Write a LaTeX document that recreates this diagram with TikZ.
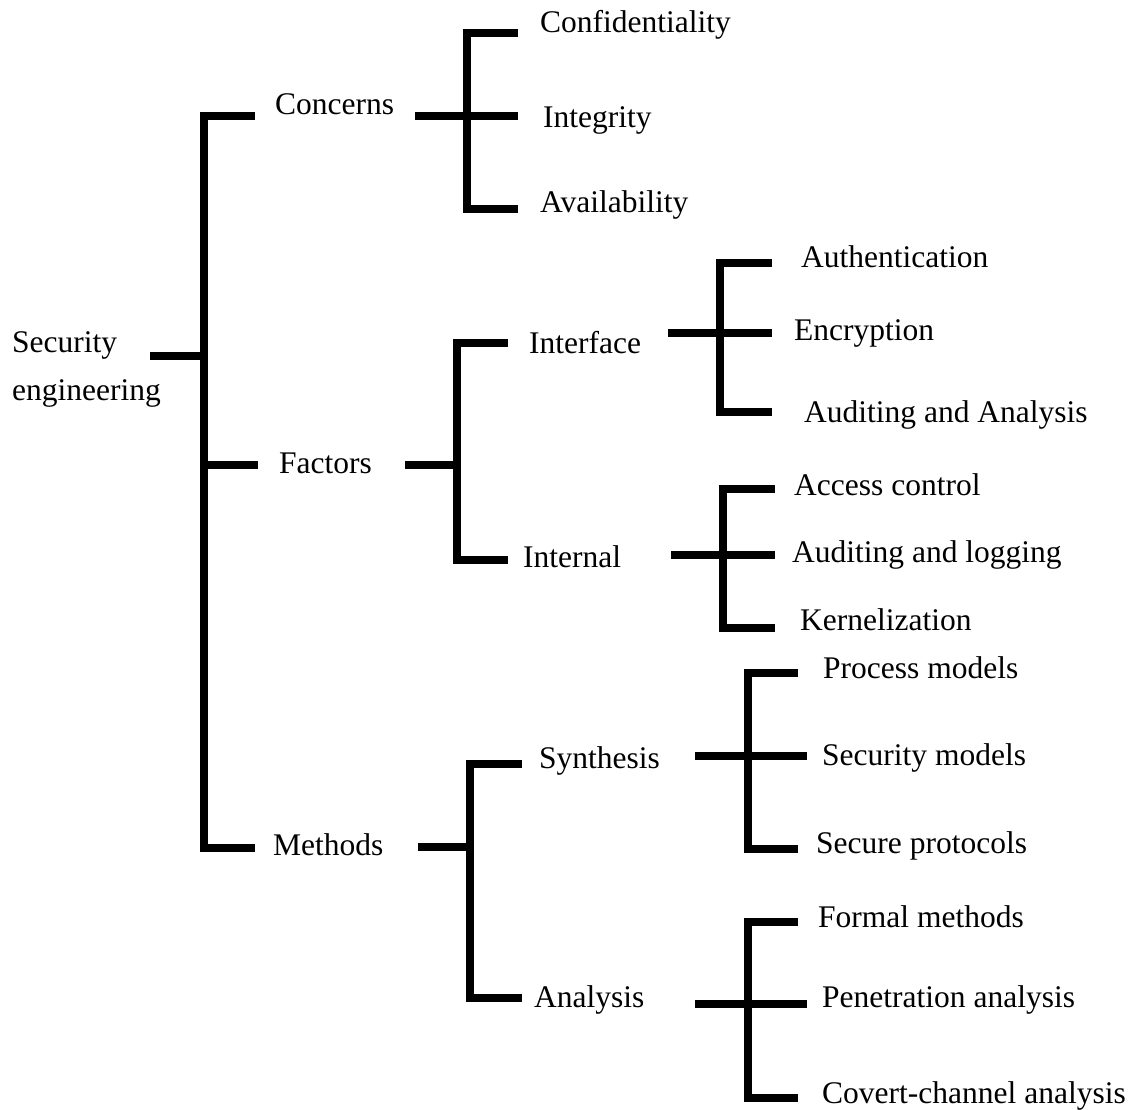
\documentclass[tikz,border=0pt]{standalone}
\usepackage{fontspec}
\setmainfont{Liberation Serif}
\usetikzlibrary{positioning}

\begin{document}
\begin{tikzpicture}[x=1pt,y=-1pt]

  % --- styles ---
  \tikzset{
    % text of every item in the tree
    treetext/.style={
      font=\fontsize{31.5}{48}\selectfont,
      inner sep=0pt,
      anchor=base west,
      align=left
    },
    % thick black bracket lines
    branch/.style={
      draw=black,
      line width=7.5pt,
      line join=miter
    }
  }

  \useasboundingbox (0,0) rectangle (1133,1110);

  % --- items ---
  % root (base = baseline of the last line)
  \node[treetext] (root) at (12,400) {Security\\engineering};

  % level 1
  \node[treetext] (concerns) at (275,115) {Concerns};
  \node[treetext] (factors) at (279,473) {Factors};
  \node[treetext] (methods) at (273,855) {Methods};

  % concerns
  \node[treetext] (conf) at (540,33) {Confidentiality};
  \node[treetext] (integ) at (543,128) {Integrity};
  \node[treetext] (avail) at (540,213) {Availability};

  % factors
  \node[treetext] (interface) at (529,353) {Interface};
  \node[treetext] (internal) at (523,567) {Internal};
  \node[treetext] (authen) at (801,268) {Authentication};
  \node[treetext] (encrypt) at (794,340) {Encryption};
  \node[treetext] (audana) at (804,422) {Auditing and Analysis};
  \node[treetext] (access) at (794,495) {Access control};
  \node[treetext] (audlog) at (792,562) {Auditing and logging};
  \node[treetext] (kernel) at (800,630) {Kernelization};

  % methods
  \node[treetext] (synth) at (539,768) {Synthesis};
  \node[treetext] (analysis) at (534,1007) {Analysis};
  \node[treetext] (procmod) at (823,678) {Process models};
  \node[treetext] (secmod) at (822,765) {Security models};
  \node[treetext] (secprot) at (816,853) {Secure protocols};
  \node[treetext] (formal) at (818,927) {Formal methods};
  \node[treetext] (penetr) at (822,1007) {Penetration analysis};
  \node[treetext] (covert) at (822,1103) {Covert-channel analysis};

  % --- bracket points ---
  \coordinate (root-out) at (150,356);
  \coordinate (root-top) at (204,116);
  \coordinate (root-mid) at (204,356);
  \coordinate (root-bot) at (204,848);
  \coordinate (concerns-in) at (255,116);
  \coordinate (factors-in) at (258,465);
  \coordinate (methods-in) at (255,848);

  \coordinate (concerns-out) at (415,116);
  \coordinate (concerns-top) at (467,33);
  \coordinate (concerns-bot) at (467,209);
  \coordinate (conf-in) at (518,33);
  \coordinate (integ-in) at (518,116);
  \coordinate (avail-in) at (518,209);

  \coordinate (factors-out) at (405,465);
  \coordinate (factors-mid) at (457,465);
  \coordinate (factors-top) at (457,343);
  \coordinate (factors-bot) at (457,560);
  \coordinate (interface-in) at (508,343);
  \coordinate (internal-in) at (508,560);

  \coordinate (interface-out) at (668,333);
  \coordinate (interface-top) at (720,263);
  \coordinate (interface-bot) at (720,412);
  \coordinate (authen-in) at (772,263);
  \coordinate (encrypt-in) at (772,333);
  \coordinate (audana-in) at (772,412);

  \coordinate (internal-out) at (671,555);
  \coordinate (internal-top) at (723,489);
  \coordinate (internal-bot) at (723,628);
  \coordinate (access-in) at (775,489);
  \coordinate (audlog-in) at (775,555);
  \coordinate (kernel-in) at (775,628);

  \coordinate (methods-out) at (418,847);
  \coordinate (methods-mid) at (470,847);
  \coordinate (methods-top) at (470,764);
  \coordinate (methods-bot) at (470,998);
  \coordinate (synth-in) at (522,764);
  \coordinate (analysis-in) at (522,998);

  \coordinate (synth-out) at (695,756);
  \coordinate (synth-top) at (748,673);
  \coordinate (synth-bot) at (748,849);
  \coordinate (procmod-in) at (798,673);
  \coordinate (secmod-in) at (807,756);
  \coordinate (secprot-in) at (798,849);

  \coordinate (analysis-out) at (695,1004);
  \coordinate (analysis-top) at (748,922);
  \coordinate (analysis-bot) at (748,1098);
  \coordinate (formal-in) at (798,922);
  \coordinate (penetr-in) at (807,1004);
  \coordinate (covert-in) at (798,1098);

  % --- brackets ---
  \draw[branch] (root-out) -- (root-mid);
  \draw[branch] (concerns-in) -- (root-top) -- (root-bot) -- (methods-in);
  \draw[branch] (root-bot |- factors-in) -- (factors-in);

  \draw[branch] (conf-in) -- (concerns-top) -- (concerns-bot) -- (avail-in);
  \draw[branch] (concerns-out) -- (integ-in);

  \draw[branch] (interface-in) -- (factors-top) -- (factors-bot) -- (internal-in);
  \draw[branch] (factors-out) -- (factors-mid);

  \draw[branch] (authen-in) -- (interface-top) -- (interface-bot) -- (audana-in);
  \draw[branch] (interface-out) -- (encrypt-in);

  \draw[branch] (access-in) -- (internal-top) -- (internal-bot) -- (kernel-in);
  \draw[branch] (internal-out) -- (audlog-in);

  \draw[branch] (synth-in) -- (methods-top) -- (methods-bot) -- (analysis-in);
  \draw[branch] (methods-out) -- (methods-mid);

  \draw[branch] (procmod-in) -- (synth-top) -- (synth-bot) -- (secprot-in);
  \draw[branch] (synth-out) -- (secmod-in);

  \draw[branch] (formal-in) -- (analysis-top) -- (analysis-bot) -- (covert-in);
  \draw[branch] (analysis-out) -- (penetr-in);

\end{tikzpicture}
\end{document}
